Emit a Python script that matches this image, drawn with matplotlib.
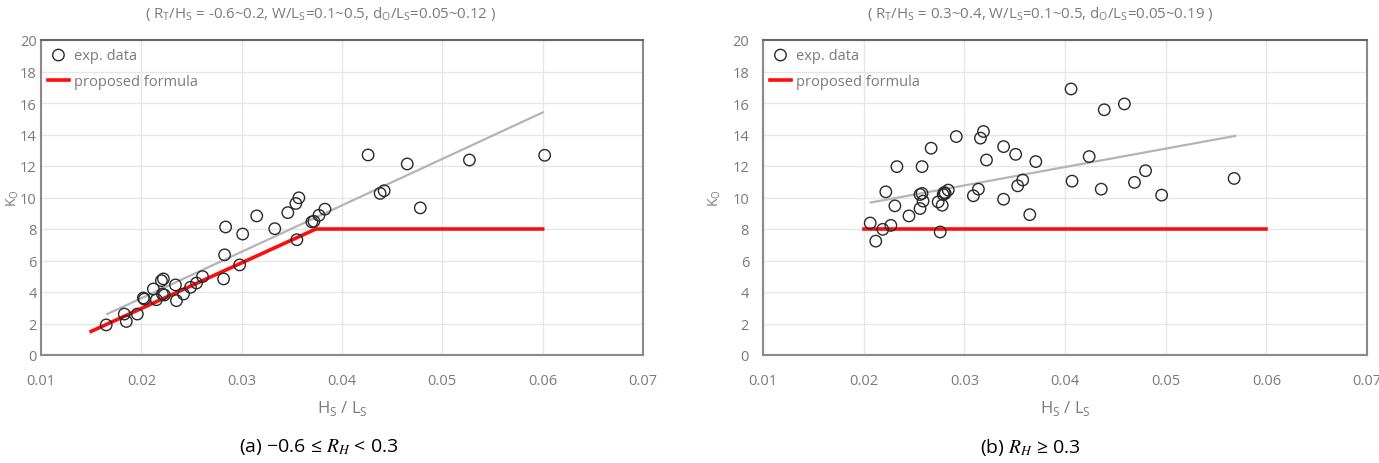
import matplotlib.pyplot as plt

plt.rcParams['font.family'] = ['Open Sans', 'DejaVu Sans']

# (a) -0.6 <= R_H < 0.3
a_x = [0.0165, 0.0183, 0.0185, 0.0196, 0.0202, 0.0203, 0.0212, 0.0215, 0.0220, 0.0222,
       0.0221, 0.0223, 0.0234, 0.0235, 0.0242, 0.0249, 0.0255, 0.0261, 0.0282, 0.0283,
       0.0284, 0.0298, 0.0301, 0.0315, 0.0333, 0.0346, 0.0355, 0.0354, 0.0357, 0.0370,
       0.0372, 0.0377, 0.0383, 0.0438, 0.0442, 0.0478, 0.0426, 0.0465, 0.0527, 0.0602]
a_y = [1.91, 2.60, 2.13, 2.60, 3.62, 3.55, 4.19, 3.51, 4.72, 4.83,
       3.87, 3.81, 4.45, 3.45, 3.87, 4.30, 4.57, 4.98, 4.83, 6.36,
       8.13, 5.72, 7.68, 8.83, 8.02, 9.04, 7.32, 9.62, 9.98, 8.45,
       8.49, 8.87, 9.26, 10.26, 10.43, 9.34, 12.70, 12.13, 12.38, 12.68]
a_trend_x = [0.0166, 0.0600]
a_trend_y = [2.6, 15.4]
a_formula_x = [0.0150, 0.0374, 0.0600]
a_formula_y = [1.50, 8.0, 8.0]

# (b) R_H >= 0.3
b_x = [0.02065, 0.0212, 0.0219, 0.0222, 0.0227, 0.0231, 0.0245, 0.0256, 0.0256, 0.0258,
       0.0259, 0.0274, 0.0276, 0.0278, 0.0279, 0.0280, 0.0281, 0.0284, 0.0309, 0.0314,
       0.0339, 0.0353, 0.0365, 0.0436, 0.0469, 0.0496, 0.0233, 0.0258, 0.0267, 0.0292,
       0.0316, 0.0319, 0.0322, 0.0339, 0.0351, 0.0358, 0.0371, 0.0406, 0.0407, 0.0424,
       0.0439, 0.0459, 0.0480, 0.0568]
b_y = [8.38, 7.23, 7.98, 10.36, 8.23, 9.47, 8.83, 9.30, 10.19, 10.26,
       9.77, 9.72, 7.81, 9.51, 10.19, 10.32, 10.26, 10.47, 10.11, 10.53,
       9.89, 10.74, 8.91, 10.53, 10.96, 10.15, 11.96, 11.96, 13.13, 13.87,
       13.77, 14.19, 12.38, 13.23, 12.74, 11.11, 12.28, 16.89, 11.04, 12.60,
       15.57, 15.94, 11.70, 11.21]
b_trend_x = [0.0207, 0.0569]
b_trend_y = [9.68, 13.91]
b_formula_x = [0.0200, 0.0600]
b_formula_y = [8.0, 8.0]

sub = lambda s: r'$_{\mathregular{%s}}$' % s
titles = ['( R%s/H%s = -0.6~0.2, W/L%s=0.1~0.5, d%s/L%s=0.05~0.12 )'
          % (sub('T'), sub('S'), sub('S'), sub('O'), sub('S')),
          '( R%s/H%s = 0.3~0.4, W/L%s=0.1~0.5, d%s/L%s=0.05~0.19 )'
          % (sub('T'), sub('S'), sub('S'), sub('O'), sub('S'))]
captions = ['(a) \u22120.6 \u2264 $R_H$ < 0.3', '(b) $R_H$ \u2265 0.3']
title_cx = [0.465, 0.459]
caption_cx = [0.462, 0.442]
ylabel_x = [-0.034, -0.066]
ytick_pad = [3, 10]

txt = '#7a7a7a'
fig = plt.figure(figsize=(13.79, 4.64), dpi=100)
ax1 = fig.add_axes([41 / 1379, 108 / 464, 602 / 1379, 315 / 464])
ax2 = fig.add_axes([763 / 1379, 108 / 464, 604 / 1379, 315 / 464])

data = [(a_x, a_y, a_trend_x, a_trend_y, a_formula_x, a_formula_y),
        (b_x, b_y, b_trend_x, b_trend_y, b_formula_x, b_formula_y)]

for i, ax in enumerate([ax1, ax2]):
    x, y, tx, ty, fx, fy = data[i]
    ax.plot(tx, ty, color='#b4b4b4', lw=1.6, zorder=2)
    ax.plot(fx, fy, color='#ff0d0d', lw=2.6, zorder=3, label='proposed formula')
    ax.scatter(x, y, s=68, facecolors='none', edgecolors='#2a2a2a', linewidths=1.0,
               zorder=4, label='exp. data')
    ax.set_xlim(0.01, 0.07)
    ax.set_ylim(0, 20)
    ax.set_xticks([0.01, 0.02, 0.03, 0.04, 0.05, 0.06, 0.07])
    ax.set_xticklabels(['0.01', '0.02', '0.03', '0.04', '0.05', '0.06', '0.07'])
    ax.set_yticks(range(0, 21, 2))
    ax.grid(True, color='#e6e6e6', lw=1.0)
    ax.set_axisbelow(True)
    ax.tick_params(length=0, labelsize=10.5, colors=txt)
    ax.tick_params(axis='x', pad=13)
    ax.tick_params(axis='y', pad=ytick_pad[i])
    for s in ax.spines.values():
        s.set_color('#8a8a8a')
        s.set_linewidth(1.5)
    ax.spines['top'].set_color('#666666')
    ax.set_xlabel('H%s / L%s' % (sub('S'), sub('S')), color=txt, fontsize=12, labelpad=7)
    ax.set_ylabel('K%s' % sub('O'), color=txt, fontsize=10)
    ax.yaxis.set_label_coords(ylabel_x[i], 0.5)
    ax.text(title_cx[i], 1.085, titles[i], transform=ax.transAxes, ha='center',
            va='center', color=txt, fontsize=10.8)
    h, l = ax.get_legend_handles_labels()
    ax.legend(h[::-1], l[::-1], loc='upper left', bbox_to_anchor=(0.012, 0.975),
              frameon=False, fontsize=10.5, labelcolor=txt, handlelength=1.4,
              borderaxespad=0, borderpad=0, handletextpad=0.4, labelspacing=0.75)
    ax.text(caption_cx[i], -0.29, captions[i], transform=ax.transAxes, ha='center',
            va='center', fontsize=14, color='black', math_fontfamily='stix')

plt.savefig('out.png', dpi=100)
